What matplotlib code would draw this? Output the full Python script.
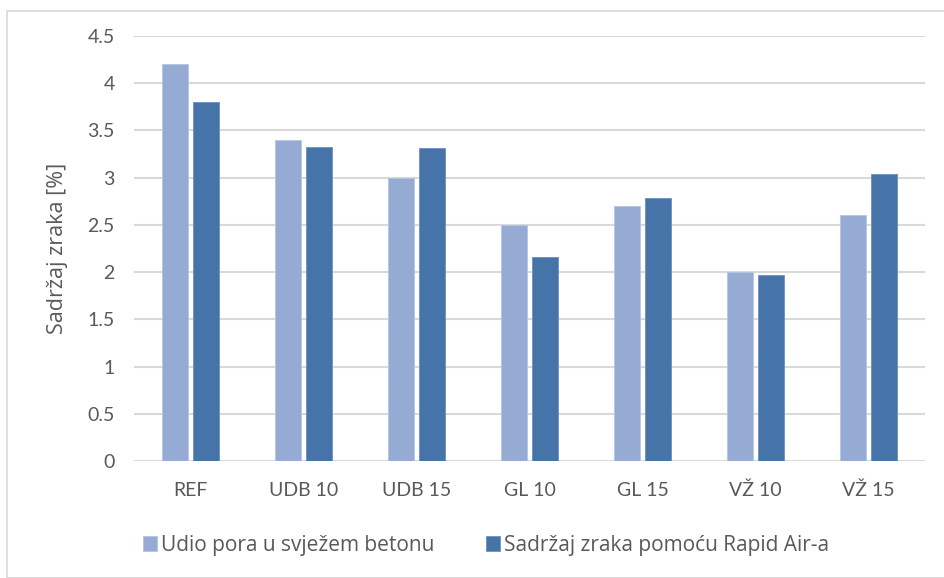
import numpy as np
import matplotlib.pyplot as plt
from matplotlib.patches import Rectangle

# podaci
kategorije = ['REF', 'UDB 10', 'UDB 15', 'GL 10', 'GL 15', 'VŽ 10', 'VŽ 15']
udio_pora = [4.2, 3.4, 3.0, 2.5, 2.7, 2.0, 2.6]
rapid_air = [3.8, 3.33, 3.31, 2.16, 2.79, 1.97, 3.04]
naziv_1 = 'Udio pora u svježem betonu'
naziv_2 = 'Sadržaj zraka pomoću Rapid Air-a'

plt.rcParams['font.family'] = ['Lato', 'DejaVu Sans']
siva = '#595959'

fig = plt.figure(figsize=(9.44, 5.78), dpi=100)
ax = fig.add_axes([134/944, 1-461/578, 791/944, 425/578])

x = np.arange(len(kategorije))
w = 0.23
ax.bar(x - 0.14, udio_pora, w, color='#95abd3', edgecolor='#b5c5e2', linewidth=0.6,
       label=naziv_1, zorder=3)
ax.bar(x + 0.14, rapid_air, w, color='#4674a8', edgecolor='#6a90c0', linewidth=0.6,
       label=naziv_2, zorder=3)

ax.set_xlim(-0.5, 6.5)
ax.set_ylim(0, 4.5)
ax.set_yticks(np.arange(0, 4.51, 0.5))
ax.set_yticklabels(['0', '0.5', '1', '1.5', '2', '2.5', '3', '3.5', '4', '4.5'])
ax.set_xticks(x)
ax.set_xticklabels(kategorije)
ax.tick_params(length=0, colors=siva, labelsize=14)
ax.tick_params(axis='x', pad=15)
ax.tick_params(axis='y', pad=14)
for s in ax.spines.values():
    s.set_visible(False)
ax.yaxis.grid(True, color='#d9d9d9', linewidth=1.5, zorder=0)
ax.set_axisbelow(True)

ax.set_ylabel('Sadržaj zraka [%]', fontsize=15.5, color=siva, labelpad=14,
              family=['Open Sans', 'DejaVu Sans'])

leg = fig.legend(loc='center left', bbox_to_anchor=(143/944, 1-545/578), ncol=2,
                 frameon=False, borderpad=0, borderaxespad=0,
                 prop={'family': ['Open Sans', 'DejaVu Sans'], 'size': 15},
                 handlelength=0.65, handleheight=0.75, handletextpad=0.2,
                 columnspacing=2.5)
for t in leg.get_texts():
    t.set_color(siva)

# okvir oko grafa
fig.patches.append(Rectangle((7/944, 0), 940/944, 1-11/578, transform=fig.transFigure,
                             fill=False, edgecolor='#d9d9d9', linewidth=1.2))

fig.savefig('out.png', dpi=100)
